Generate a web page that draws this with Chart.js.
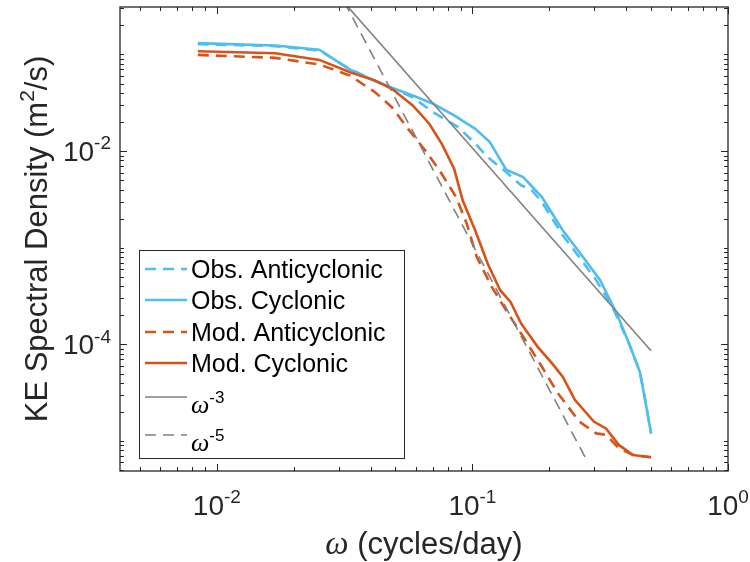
<!DOCTYPE html>
<html>
<head>
<meta charset="utf-8">
<script src="https://cdn.jsdelivr.net/npm/chart.js@4.4.1/dist/chart.umd.min.js"></script>
<style>
  html, body { margin: 0; padding: 0; background: #fff; }
</style>
</head>
<body>
<canvas id="spectrum" width="750" height="562"></canvas>
<script>
// series (frequency in cycles/day, KE density in m^2/s)
const obsAntiX = [0.00843, 0.0169, 0.0252, 0.0328, 0.0401, 0.0484, 0.0584, 0.0702, 0.088, 0.1026, 0.1147, 0.1356, 0.155, 0.17, 0.187, 0.2255, 0.262, 0.305, 0.353, 0.41, 0.452, 0.475, 0.5];
const obsAntiY = [0.128, 0.122, 0.110, 0.072, 0.0555, 0.0448, 0.036, 0.0253, 0.0177, 0.012, 0.00867, 0.00607, 0.00443, 0.0040, 0.00297, 0.00135, 8.0e-4, 4.61e-4, 2.45e-4, 1.02e-4, 5.2e-5, 2.6e-5, 1.2e-5];

const obsCycX = [0.00843, 0.0169, 0.0252, 0.0328, 0.0401, 0.0484, 0.0584, 0.0702, 0.0848, 0.1026, 0.117, 0.1356, 0.158, 0.187, 0.2255, 0.262, 0.316, 0.367, 0.41, 0.452, 0.475, 0.5];
const obsCycY = [0.131, 0.124, 0.112, 0.071, 0.056, 0.0452, 0.0376, 0.0309, 0.0234, 0.017, 0.0124, 0.00642, 0.00539, 0.00335, 0.00152, 9.06e-4, 4.61e-4, 2.09e-4, 1.02e-4, 5.2e-5, 2.6e-5, 1.2e-5];

const modAntiX = [0.00843, 0.0169, 0.0252, 0.0332, 0.0416, 0.0484, 0.056, 0.0653, 0.0744, 0.0863, 0.095, 0.104, 0.119, 0.138, 0.161, 0.187, 0.216, 0.262, 0.305, 0.333, 0.374, 0.425, 0.5];
const modAntiY = [0.099, 0.0923, 0.0787, 0.0605, 0.0407, 0.0285, 0.017, 0.0102, 0.00632, 0.00335, 0.00178, 8.03e-4, 3.94e-4, 2.09e-4, 1.11e-4, 5.87e-5, 3.12e-5, 1.59e-5, 1.2e-5, 1.16e-5, 8.43e-6, 7.18e-6, 6.8e-6];

const modCycX = [0.00843, 0.0169, 0.0252, 0.0332, 0.0416, 0.0484, 0.0584, 0.0678, 0.0759, 0.0848, 0.0916, 0.1025, 0.1147, 0.1284, 0.141, 0.155, 0.18, 0.205, 0.2255, 0.252, 0.2986, 0.333, 0.374, 0.425, 0.5];
const modCycY = [0.108, 0.103, 0.0879, 0.0655, 0.0537, 0.0441, 0.0297, 0.0192, 0.0119, 0.00657, 0.0031, 0.00152, 6.87e-4, 3.64e-4, 2.75e-4, 1.65e-4, 9.44e-5, 6.37e-5, 4.63e-5, 2.66e-5, 1.59e-5, 1.35e-5, 9.12e-6, 7.18e-6, 6.8e-6];

// reference slopes
const slope3X = [0.0315, 0.5];
const slope3Y = [0.344, 8.6e-5];
const slope5X = [0.0315, 0.284];
const slope5Y = [0.352, 5.9e-6];

const seriesNames = ['Obs. Anticyclonic', 'Obs. Cyclonic', 'Mod. Anticyclonic', 'Mod. Cyclonic', 'ω^-3', 'ω^-5'];

// axis ticks
const xLabelTicks = [0.01, 0.1, 1];
const xTickLabels = ['10^-2', '10^-1', '10^0'];
const yLabelTicks = [1e-4, 1e-2];
const yTickLabels = ['10^-4', '10^-2'];
const xTitle = 'ω (cycles/day)';
const yTitle = 'KE Spectral Density (m^2^/s)';

const BLUE = '#4DBEEE';
const ORANGE = '#D95319';
const GRAY = '#808080';
const INK = '#262626';
const SANS = "'Liberation Sans', Arial, Helvetica, sans-serif";
const SERIF = "'Liberation Serif', 'DejaVu Serif', serif";

function pts(xs, ys) {
  return xs.map((x, i) => ({ x: x, y: ys[i] }));
}

// "a^b^c" -> normal / superscript / normal ; a leading omega gets italic
function parts(str, size) {
  const bits = str.split('^');
  return bits.map((t, i) => {
    const sup = i % 2 === 1;
    const p = { t: t, size: sup ? Math.round(size * 0.68) : size, dy: sup ? -size * 0.42 : 0 };
    if (!sup && t.startsWith('ω')) {
      p.omega = true;
    }
    return p;
  });
}

function fontOf(p) {
  return p.size + 'px ' + SANS;
}

function drawRich(ctx, str, size, x, y, align) {
  const list = [];
  parts(str, size).forEach(p => {
    if (p.omega) {
      list.push({ t: 'ω', font: 'italic ' + Math.round(p.size * 1.05) + 'px ' + SERIF, dy: p.dy });
      if (p.t.length > 1) list.push({ t: p.t.slice(1), font: fontOf(p), dy: p.dy });
    } else if (p.t.length) {
      list.push({ t: p.t, font: fontOf(p), dy: p.dy });
    }
  });
  let total = 0;
  list.forEach(q => { ctx.font = q.font; q.w = ctx.measureText(q.t).width; total += q.w; });
  let cx = align === 'right' ? x - total : align === 'center' ? x - total / 2 : x;
  ctx.textAlign = 'left';
  ctx.textBaseline = 'alphabetic';
  list.forEach(q => { ctx.font = q.font; ctx.fillText(q.t, cx, y + q.dy); cx += q.w; });
}

function minorTicks(min, max) {
  const out = [];
  for (let d = Math.floor(Math.log10(min)); d <= Math.ceil(Math.log10(max)); d++) {
    for (let k = 1; k <= 9; k++) {
      const v = k * Math.pow(10, d);
      if (v >= min && v <= max) out.push(v);
    }
  }
  return out;
}

const axesPlugin = {
  id: 'matlabAxes',
  afterDatasetsDraw(chart) {
    const { ctx, chartArea: a, scales } = chart;
    const xs = scales.x, ys = scales.y;
    ctx.save();
    ctx.strokeStyle = INK;
    ctx.fillStyle = INK;
    ctx.lineWidth = 1;

    // ticks on all four sides, pointing inward
    ctx.beginPath();
    minorTicks(xs.min, xs.max).forEach(v => {
      const px = Math.round(xs.getPixelForValue(v)) + 0.5;
      const len = xLabelTicks.some(t => Math.abs(t - v) / t < 1e-6) ? 7 : 4;
      ctx.moveTo(px, a.bottom); ctx.lineTo(px, a.bottom - len);
      ctx.moveTo(px, a.top); ctx.lineTo(px, a.top + len);
    });
    minorTicks(ys.min, ys.max).forEach(v => {
      const py = Math.round(ys.getPixelForValue(v)) + 0.5;
      const len = yLabelTicks.some(t => Math.abs(t - v) / t < 1e-6) ? 7 : 4;
      ctx.moveTo(a.left, py); ctx.lineTo(a.left + len, py);
      ctx.moveTo(a.right, py); ctx.lineTo(a.right - len, py);
    });
    ctx.stroke();

    // box
    ctx.lineWidth = 1.3;
    ctx.strokeRect(a.left, a.top, a.right - a.left, a.bottom - a.top);

    // tick labels
    xLabelTicks.forEach((v, i) => {
      drawRich(ctx, xTickLabels[i], 28, xs.getPixelForValue(v), a.bottom + 44, 'center');
    });
    yLabelTicks.forEach((v, i) => {
      drawRich(ctx, yTickLabels[i], 28, a.left - 9, ys.getPixelForValue(v) + 10, 'right');
    });

    // axis titles
    drawRich(ctx, xTitle, 31, (a.left + a.right) / 2, a.bottom + 83, 'center');
    ctx.save();
    ctx.translate(47, (a.top + a.bottom) / 2);
    ctx.rotate(-Math.PI / 2);
    drawRich(ctx, yTitle, 31, 0, 0, 'center');
    ctx.restore();

    // legend
    const bx = 139, by = 250, bw = 265, bh = 208;
    const rowY = [19, 50, 82, 113, 147, 185];
    ctx.fillStyle = '#fff';
    ctx.fillRect(bx, by, bw, bh);
    ctx.lineWidth = 1;
    ctx.strokeStyle = INK;
    ctx.strokeRect(bx + 0.5, by + 0.5, bw, bh);
    chart.data.datasets.forEach((ds, i) => {
      const yc = by + rowY[i];
      ctx.save();
      ctx.strokeStyle = ds.borderColor;
      ctx.lineWidth = ds.borderWidth;
      ctx.setLineDash(ds.borderDash || []);
      ctx.beginPath();
      ctx.moveTo(bx + 6, yc);
      ctx.lineTo(bx + 48, yc);
      ctx.stroke();
      ctx.restore();
      ctx.fillStyle = '#000';
      const sup = ds.label.indexOf('^') >= 0;
      drawRich(ctx, ds.label, 25, bx + 52, yc + (sup ? 16 : 9), 'left');
    });
    ctx.restore();
  }
};

const styles = [
  { c: BLUE, w: 2.6, dash: [11, 7] },
  { c: BLUE, w: 2.6, dash: [] },
  { c: ORANGE, w: 2.6, dash: [11, 7] },
  { c: ORANGE, w: 2.6, dash: [] },
  { c: GRAY, w: 1.6, dash: [] },
  { c: GRAY, w: 1.6, dash: [11, 7] }
];
const seriesData = [
  pts(obsAntiX, obsAntiY),
  pts(obsCycX, obsCycY),
  pts(modAntiX, modAntiY),
  pts(modCycX, modCycY),
  pts(slope3X, slope3Y),
  pts(slope5X, slope5Y)
];

const ctx = document.getElementById('spectrum');

new Chart(ctx, {
  type: 'line',
  data: {
    datasets: seriesData.map((d, i) => ({
      label: seriesNames[i],
      data: d,
      borderColor: styles[i].c,
      borderWidth: styles[i].w,
      borderDash: styles[i].dash,
      pointRadius: 0,
      tension: 0,
      fill: false,
      clip: 0,
      order: seriesData.length - i
    }))
  },
  options: {
    responsive: false,
    animation: false,
    devicePixelRatio: 1,
    layout: { padding: { left: 120, top: 7, right: 22, bottom: 91 } },
    plugins: { legend: { display: false }, tooltip: { enabled: false } },
    scales: {
      x: { type: 'logarithmic', min: 0.00418, max: 1, display: false },
      y: { type: 'logarithmic', min: 4.9e-6, max: 0.31, display: false }
    }
  },
  plugins: [axesPlugin]
});
</script>
</body>
</html>
